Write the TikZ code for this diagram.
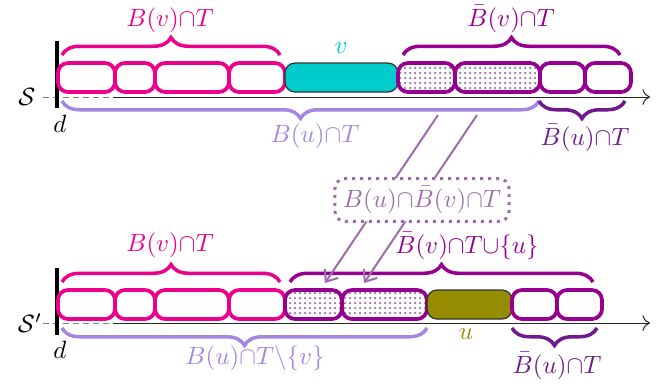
\documentclass[tikz,border=0pt]{standalone}
\usetikzlibrary{decorations.pathreplacing,patterns.meta,arrows.meta}
\definecolor{cpink}{RGB}{236,0,140}
\definecolor{cpurp}{RGB}{150,0,145}
\definecolor{cdark}{RGB}{110,25,140}
\definecolor{clav}{RGB}{165,135,225}
\definecolor{cgp}{RGB}{155,110,170}
\definecolor{ccyan}{RGB}{0,204,204}
\definecolor{colive}{RGB}{150,140,0}
\begin{document}
\begin{tikzpicture}[x=0.4pt,y=-0.4pt,
  cell/.style={rounded corners=4pt, line width=1.5pt, inner sep=0pt, outer sep=0pt, minimum height=11.6pt},
  pcell/.style={cell, draw=cpink, fill=white},
  qcell/.style={cell, draw=cpurp, fill=white},
  dcell/.style={cell, draw=cpurp, pattern={Dots[distance=2pt,radius=0.5pt]}, pattern color=cgp},
  vcell/.style={cell, draw=black!80, line width=0.5pt, fill=ccyan},
  ucell/.style={cell, draw=black!80, line width=0.5pt, fill=colive},
  brc/.style={decorate, decoration={brace, amplitude=7pt}, line width=1.4pt},
  mbrc/.style={decorate, decoration={brace, amplitude=7pt, mirror}, line width=1.4pt},
  lbl/.style={inner sep=0pt},
  axis/.style={-{To[length=3pt]}, line width=0.4pt, black!85},
  pre/.style={gray, dash pattern=on 2.4pt off 1.6pt, line width=0.4pt},
  bar/.style={line width=1.7pt, black},
  mov/.style={-{Straight Barb[length=4pt,width=6.5pt]}, line width=0.8pt, cgp},
  mid/.style={draw=cgp, dotted, line width=1.2pt, rounded corners=4pt, fill=white, inner sep=3.2pt, text=cgp}
]
\useasboundingbox (0,0) rectangle (665,383);

% ---------- top row ----------
\draw[pre] (43,97) -- (113,97);
\draw[axis] (113,97) -- (650,97);
\draw[bar] (57,41) -- (57,108);
\node[lbl] (S) at (27,97) {$\mathcal{S}$};
\node[lbl] (d1) at (60,124) {$d$};

\node[pcell, minimum width=22.8pt] (a1) at (86.5,77.5) {};
\node[pcell, minimum width=16pt]   (a2) at (135,77.5) {};
\node[pcell, minimum width=29.6pt] (a3) at (192,77.5) {};
\node[pcell, minimum width=22.4pt] (a4) at (257,77.5) {};
\node[vcell, minimum width=45.2pt] (v)  at (341.5,77.5) {};
\node[dcell, minimum width=22.8pt] (p1) at (426.5,77.5) {};
\node[dcell, minimum width=34pt]   (p2) at (497.5,77.5) {};
\node[qcell, minimum width=18pt]   (b1) at (562.5,77.5) {};
\node[qcell, minimum width=18.4pt] (b2) at (608,77.5) {};

\draw[brc, cpink] (62,55) -- (280,55);
\node[lbl, text=cpink] (l1) at (170,20) {$B(v){\cap}T$};
\node[lbl, text=ccyan] (lv) at (341,48) {$v$};
\draw[brc, cpurp] (403,55) -- (620,55);
\node[lbl, text=cpurp] (l2) at (511,19) {$\bar{B}(v){\cap}T$};
\draw[mbrc, clav] (62,101) -- (539,101);
\node[lbl, text=clav] (l3) at (315,136) {$B(u){\cap}T$};
\draw[mbrc, cdark] (539,101) -- (625,101);
\node[lbl, text=cdark] (l4) at (585,138) {$\bar{B}(u){\cap}T$};

% ---------- bottom row ----------
\draw[pre] (43,323) -- (113,323);
\draw[axis] (113,323) -- (650,323);
\draw[bar] (57,268) -- (57,335);
\node[lbl] (S2) at (30,323) {$\mathcal{S}'$};
\node[lbl] (d2) at (60,350) {$d$};

\node[pcell, minimum width=22.8pt] (c1) at (86.5,304.5) {};
\node[pcell, minimum width=16pt]   (c2) at (135,304.5) {};
\node[pcell, minimum width=29.6pt] (c3) at (192,304.5) {};
\node[pcell, minimum width=22.4pt] (c4) at (257,304.5) {};
\node[dcell, minimum width=22.8pt] (q1) at (313.5,304.5) {};
\node[dcell, minimum width=34pt]   (q2) at (384.5,304.5) {};
\node[ucell, minimum width=34pt]   (u)  at (469.5,304.5) {};
\node[qcell, minimum width=18pt]   (e1) at (534.5,304.5) {};
\node[qcell, minimum width=18pt]   (e2) at (579.5,304.5) {};

\draw[brc, cpink] (62,282) -- (280,282);
\node[lbl, text=cpink] (m1) at (170,245) {$B(v){\cap}T$};
\draw[brc, cpurp] (290,282) -- (593,282);
\node[lbl, text=cpurp] (m2) at (467,246) {$\bar{B}(v){\cap}T{\cup}\{u\}$};
\draw[mbrc, clav] (62,328) -- (427,328);
\node[lbl, text=clav] (m3) at (255,358) {$B(u){\cap}T{\setminus}\{v\}$};
\node[lbl, text=colive] (lu) at (466,334) {$u$};
\draw[mbrc, cdark] (512,328) -- (597,328);
\node[lbl, text=cdark] (m4) at (557,366) {$\bar{B}(u){\cap}T$};

% ---------- moves ----------
\coordinate (s1) at (438,115);
\coordinate (s2) at (477,115);
\coordinate (t1) at (325,283);
\coordinate (t2) at (364,283);
\draw[mov] (s1) -- (t1);
\draw[mov] (s2) -- (t2);
\node[mid] (box) at (422,200) {$B(u){\cap}\bar{B}(v){\cap}T$};
\end{tikzpicture}
\end{document}
